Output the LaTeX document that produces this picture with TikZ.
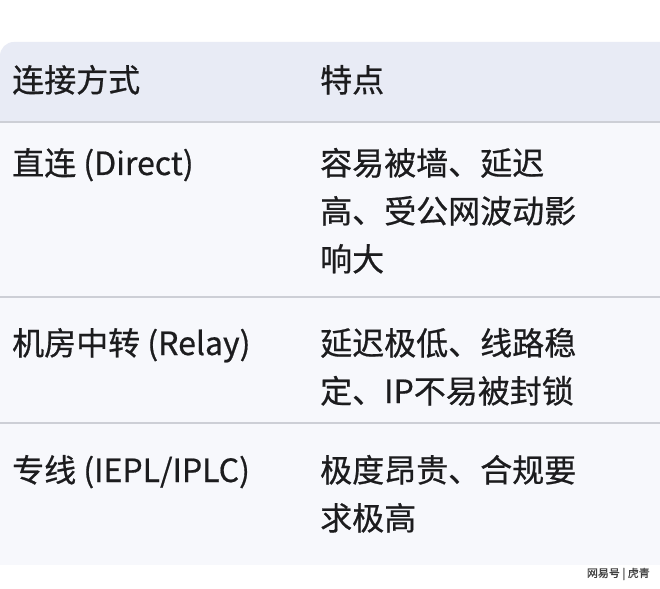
\documentclass[tikz,border=0pt]{standalone}
\usepackage{fontspec}
\setmainfont{Noto Sans CJK SC}[FakeBold=0.6]
\definecolor{headbg}{RGB}{232,235,245}
\definecolor{rowbg}{RGB}{247,248,252}
\definecolor{rule}{RGB}{205,207,214}
\definecolor{ink}{RGB}{28,28,30}
\tikzset{cell/.style={anchor=base west, text=ink, font=\fontsize{32}{48}\selectfont, inner sep=0pt, align=left},
  wmark/.style={anchor=east, text=black!75, font=\fontsize{11}{12}\selectfont, inner sep=0pt}}
\begin{document}
\begin{tikzpicture}[x=1pt,y=-1pt]
  \useasboundingbox (0,0) rectangle (660,588);
  \fill[white] (0,0) rectangle (660,588);
  % table body
  \fill[rowbg] (0,122) rectangle (660,565);
  \fill[headbg, rounded corners=14pt] (0,42) rectangle (680,140);
  \fill[rowbg] (0,122) rectangle (660,140);
  \draw[rule, line width=1.2pt] (0,122) -- (660,122);
  \draw[rule, line width=1.2pt] (0,297) -- (660,297);
  \draw[rule, line width=1.2pt] (0,423) -- (660,423);
  % header
  \node[cell] (hmode) at (12,92) {连接方式};
  \node[cell] (hfeat) at (320,92) {特点};
  % rows (base = last line)
  \node[cell] (direct) at (12,175) {直连 (Direct)};
  \node[cell] (directfeat) at (320,271) {容易被墙、延迟\\高、受公网波动影\\响大};
  \node[cell] (relay) at (12,355) {机房中转 (Relay)};
  \node[cell] (relayfeat) at (320,403) {延迟极低、线路稳\\定、IP不易被封锁};
  \node[cell] (iepl) at (12,482) {专线 (IEPL/IPLC)};
  \node[cell] (ieplfeat) at (320,530) {极度昂贵、合规要\\求极高};
  \node[wmark] (wm) at (650,574) {网易号 | 虎青};
\end{tikzpicture}
\end{document}
